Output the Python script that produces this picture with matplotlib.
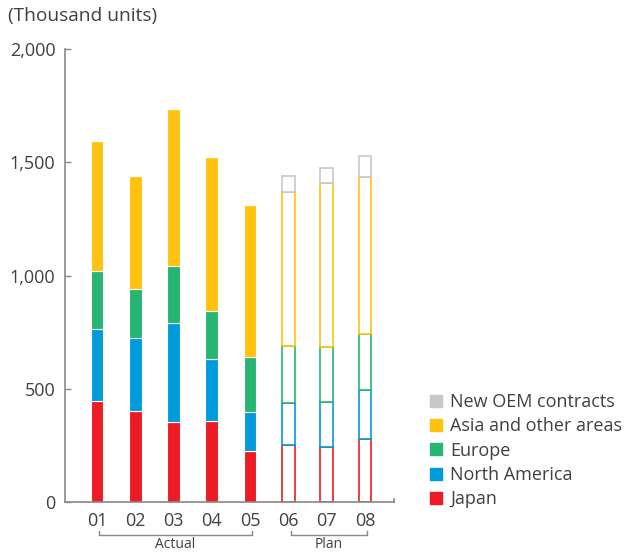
# stacked bar chart of unit sales by region, actual vs plan
import matplotlib.pyplot as plt
import matplotlib.transforms as mtransforms
import numpy as np

plt.rcParams['font.family'] = ['Open Sans', 'DejaVu Sans']

# data (thousand units)
years = ['01', '02', '03', '04', '05', '06', '07', '08']
japan = [446, 402, 353, 358, 225, 253, 241, 277]
north_america = [316, 323, 439, 273, 174, 183, 201, 219]
europe = [258, 214, 251, 214, 241, 254, 244, 246]
asia = [574, 502, 692, 680, 670, 680, 724, 693]
new_oem = [0, 0, 0, 0, 0, 71, 66, 91]
n_actual = 5

series = [
    ('Japan', japan, '#ED1C24'),
    ('North America', north_america, '#009BDB'),
    ('Europe', europe, '#27B573'),
    ('Asia and other areas', asia, '#FFC20E'),
    ('New OEM contracts', new_oem, '#C8C8C8'),
]

fig = plt.figure(figsize=(6.37, 5.52), dpi=100)
ax = fig.add_axes([65 / 637, 1 - 502 / 552, (394 - 65) / 637, (502 - 49) / 552])

x = np.arange(len(years))
width = 0.33
bottom = np.zeros(len(years))
handles = []
for name, vals, color in series:
    vals = np.array(vals, dtype=float)
    # actual years: solid bars with thin white separators
    xa = x[:n_actual]
    ax.bar(xa, vals[:n_actual], width, bottom=bottom[:n_actual],
           color=color, edgecolor='white', linewidth=0.8)
    # plan years: outline only
    xp = x[n_actual:]
    ax.bar(xp, vals[n_actual:], width, bottom=bottom[n_actual:],
           facecolor='white', edgecolor=color, linewidth=1.2)
    bottom += vals
    handles.append(plt.Rectangle((0, 0), 1, 1, color=color, label=name))

# axes look
ax.set_xlim(-0.835, 7.76)
ax.set_ylim(0, 2000)
ax.set_yticks([0, 500, 1000, 1500, 2000])
ax.set_yticklabels(['0', '500', '1,000', '1,500', '2,000'])
ax.set_xticks(x)
ax.set_xticklabels(years)
ax.tick_params(axis='y', direction='in', length=4, width=1, color='#888888',
               labelsize=13, labelcolor='#404040', pad=7)
ax.tick_params(axis='x', length=0, labelsize=13, labelcolor='#404040', pad=7)
ax.spines['top'].set_visible(False)
ax.spines['right'].set_bounds(0, 15)
for side in ['left', 'bottom', 'right']:
    ax.spines[side].set_color('#888888')
    ax.spines[side].set_linewidth(1.2)

# brackets under the year labels
trans = mtransforms.blended_transform_factory(ax.transData, ax.transAxes)
for x0, x1, label in [(0.05, 4.05, 'Actual'), (5.07, 7.05, 'Plan')]:
    ax.plot([x0, x0, x1, x1], [-0.064, -0.073, -0.073, -0.064], color='#888888',
            linewidth=1, transform=trans, clip_on=False)
    ax.text((x0 + x1) / 2, -0.094, label, transform=trans, ha='center', va='center',
            fontsize=10, color='#404040')

# unit label
fig.text(8 / 637, 1 - 16 / 552, '(Thousand units)', ha='left', va='center',
         fontsize=13.8, color='#404040')

# legend, top entry first
leg = fig.legend(handles=handles[::-1], loc='upper left',
                 bbox_to_anchor=(421 / 637, 1 - 384 / 552), frameon=False,
                 fontsize=13, handlelength=0.65, handleheight=0.65,
                 handletextpad=0.45, labelspacing=0.35, borderpad=0)
for t in leg.get_texts():
    t.set_color('#404040')

plt.savefig('out.png', dpi=100)
